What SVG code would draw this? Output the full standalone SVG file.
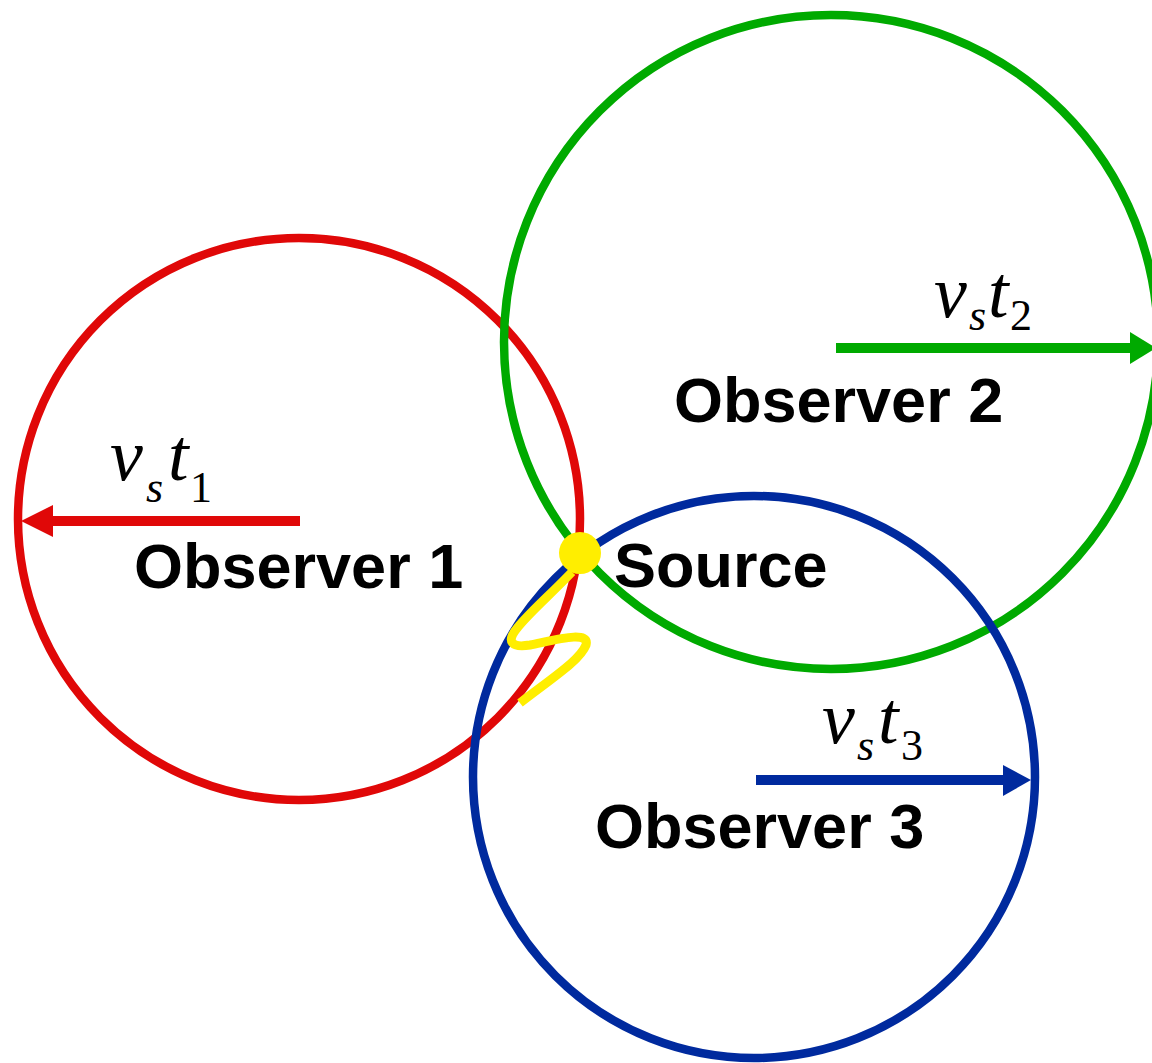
<svg xmlns="http://www.w3.org/2000/svg" width="1152" height="1063" viewBox="0 0 1152 1063">
<defs>
<style>
.circ{fill:none;stroke-width:8.5}
.lbl{font-family:"Liberation Sans",Arial,sans-serif;font-weight:bold;font-size:63px;fill:#000}
.math{font-family:"Liberation Serif","Times New Roman",serif;font-style:italic;fill:#000}
.big{font-size:74px}
.sub{font-size:44px}
.num{font-style:normal}
</style>
</defs>
<rect width="1152" height="1063" fill="#fff"/>
<g id="observer1">
<circle class="circ" cx="299" cy="519" r="281" stroke="#e00808"/>
</g>
<g id="observer2">
<circle class="circ" cx="831" cy="342" r="327" stroke="#00aa00"/>
</g>
<g id="observer3">
<circle class="circ" cx="754" cy="777" r="281" stroke="#002a9e"/>
</g>
<g id="connectors">
<line x1="300" y1="521" x2="50" y2="521" stroke="#e00808" stroke-width="10"/>
<polygon points="21,521 53,505 53,537" fill="#e00808"/>
<line x1="836" y1="348" x2="1135" y2="348" stroke="#00aa00" stroke-width="10"/>
<polygon points="1156,348 1130,332 1130,364" fill="#00aa00"/>
<line x1="756" y1="780" x2="1008" y2="780" stroke="#002a9e" stroke-width="10"/>
<polygon points="1031,780 1003,765 1003,796" fill="#002a9e"/>
</g>
<g id="source">
<path d="M572,572 C550,595 530,612 518,627 C505,642 512,648 530,645 C555,640 590,630 586,645 C580,660 555,676 520,703" fill="none" stroke="#ffee00" stroke-width="9"/>
<circle cx="580" cy="553" r="21" fill="#ffee00"/>
<text class="lbl" x="614" y="587">Source</text>
</g>
<g id="labels">
<text class="lbl" x="134" y="588">Observer 1</text>
<text class="lbl" x="674" y="422">Observer 2</text>
<text class="lbl" x="595" y="848">Observer 3</text>
<text class="math"><tspan class="big" x="110" y="480">v</tspan><tspan class="sub" x="146" y="502">s</tspan><tspan class="big" x="168" y="480">t</tspan><tspan class="sub num" x="190" y="502">1</tspan></text>
<text class="math"><tspan class="big" x="934" y="317">v</tspan><tspan class="sub" x="969" y="330">s</tspan><tspan class="big" x="988" y="317">t</tspan><tspan class="sub num" x="1010" y="330">2</tspan></text>
<text class="math"><tspan class="big" x="822" y="743">v</tspan><tspan class="sub" x="857" y="760">s</tspan><tspan class="big" x="878" y="743">t</tspan><tspan class="sub num" x="901" y="760">3</tspan></text>
</g>
</svg>
